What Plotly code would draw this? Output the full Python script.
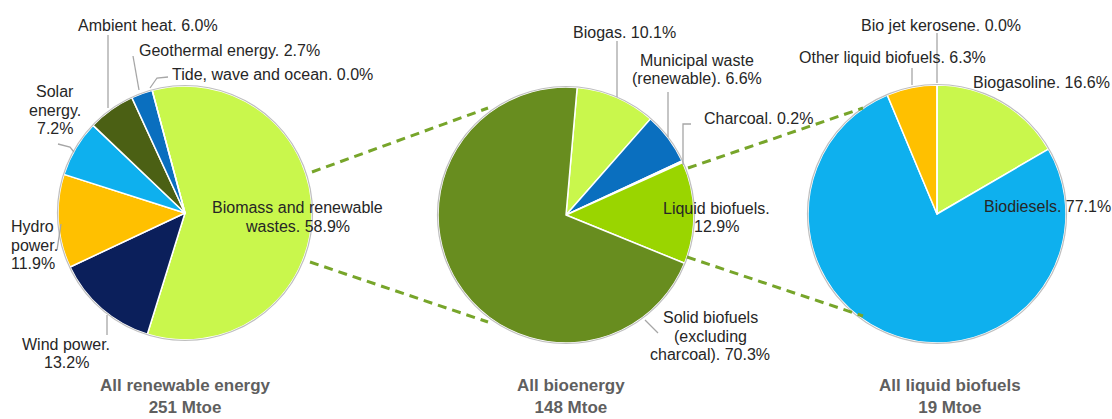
import plotly.graph_objects as go

# ---------------- data ----------------
renew_labels = ["Biomass and renewable wastes", "Wind power", "Hydro power", "Solar energy",
                "Ambient heat", "Geothermal energy", "Tide, wave and ocean"]
renew_values = [58.9, 13.2, 11.9, 7.2, 6.0, 2.7, 0.0]

bio_labels = ["Biogas", "Municipal waste (renewable)", "Charcoal", "Liquid biofuels",
              "Solid biofuels (excluding charcoal)"]
bio_values = [10.1, 6.6, 0.2, 12.9, 70.3]

liq_labels = ["Biogasoline", "Biodiesels", "Other liquid biofuels", "Bio jet kerosene"]
liq_values = [16.6, 77.1, 6.3, 0.0]

titles = [("All renewable energy", "251 Mtoe"), ("All bioenergy", "148 Mtoe"),
          ("All liquid biofuels", "19 Mtoe")]

# ---------------- style / layout ----------------
W, H = 1112, 419
LIGHT = "#C9F74C"
renew_colors = [LIGHT, "#0B1F5B", "#FFC000", "#0EB0EE", "#4B6014", "#0A6FBF", "#7F7F7F"]
bio_colors = [LIGHT, "#0A6FBF", "#2E4A0A", "#9AD500", "#688D1F"]
liq_colors = [LIGHT, "#0EB0EE", "#FFC000", "#7F7F7F"]

pies = [  # centre px, radius px, rotation
    dict(cx=185, cy=213, r=127, rot=-15),
    dict(cx=566, cy=215, r=128, rot=5),
    dict(cx=937, cy=214, r=129, rot=0),
]

FONT = "Liberation Sans, Arial, sans-serif"
TXT = "#262626"
LEAD = "#A6A6A6"
CONN = "#77A52A"
LS = 18.5  # line spacing


def px(x):
    return x / W


def py(y):
    return 1 - y / H


fig = go.Figure()
for spec, labs, vals, cols in [(pies[0], renew_labels, renew_values, renew_colors),
                               (pies[1], bio_labels, bio_values, bio_colors),
                               (pies[2], liq_labels, liq_values, liq_colors)]:
    cx, cy, r = spec["cx"], spec["cy"], spec["r"]
    fig.add_trace(go.Pie(
        labels=labs, values=vals, sort=False, direction="clockwise",
        rotation=spec["rot"], textinfo="none", hoverinfo="label+value",
        marker=dict(colors=cols, line=dict(color="white", width=1.5)),
        domain=dict(x=[px(cx - r), px(cx + r)], y=[py(cy + r), py(cy - r)]),
        showlegend=False,
    ))

shapes = []
annotations = []

# outer grey rim
for spec in pies:
    cx, cy, r = spec["cx"], spec["cy"], spec["r"] + 0.5
    shapes.append(dict(type="circle", xref="paper", yref="paper",
                       x0=px(cx - r), x1=px(cx + r), y0=py(cy + r), y1=py(cy - r),
                       line=dict(color="#BFBFBF", width=1.2), layer="above"))


def label_text(name, value, breaks):
    words = f"{name}. {value:.1f}%".split(" ")
    lines, cur = [], []
    for i, w in enumerate(words, 1):
        cur.append(w)
        if i in breaks:
            lines.append(" ".join(cur))
            cur = []
    if cur:
        lines.append(" ".join(cur))
    return lines


def add_label(lines, x, yc, anchor="center"):
    n = len(lines)
    for i, ln in enumerate(lines):
        y = yc + (i - (n - 1) / 2) * LS
        annotations.append(dict(text=ln, x=px(x), y=py(y), xref="paper", yref="paper",
                                xanchor=anchor, yanchor="middle", showarrow=False,
                                font=dict(family=FONT, size=16, color=TXT)))


def add_path(points, color, width, dash="solid"):
    d = "M " + " L ".join(f"{px(a)} {py(b)}" for a, b in points)
    shapes.append(dict(type="path", path=d, xref="paper", yref="paper",
                       line=dict(color=color, width=width, dash=dash), layer="above"))


# label placement: name -> (x, y centre, anchor, breaks, leader polyline)
placements = {
    "Biomass and renewable wastes": (297, 217, "center", [3], None),
    "Wind power": (66, 353.5, "center", [2], [(107, 315), (107, 335)]),
    "Hydro power": (9, 245, "left", [1, 2], [(61, 224), (57, 250)]),
    "Solar energy": (55, 110, "center", [1, 2], [(58, 144), (70, 147), (74, 152)]),
    "Ambient heat": (148, 25, "center", [], [(108, 35), (108, 108)]),
    "Geothermal energy": (229, 50, "center", [], [(133, 56), (139, 90)]),
    "Tide, wave and ocean": (170, 74, "left", [], [(150, 88), (157, 78), (168, 77)]),
    "Biogas": (624, 32, "center", [], [(617, 41), (617, 97)]),
    "Municipal waste (renewable)": (697, 69.5, "center", [2], [(668, 92), (668, 137)]),
    "Charcoal": (702, 118, "left", [], [(691, 124), (683, 124), (683, 165)]),
    "Liquid biofuels": (716, 217.5, "center", [2], None),
    "Solid biofuels (excluding charcoal)": (710, 336, "center", [2, 3], [(645, 320), (658, 333)]),
    "Biogasoline": (971, 82, "left", [], None),
    "Biodiesels": (982, 207, "left", [], None),
    "Other liquid biofuels": (892, 58, "center", [], [(912, 68), (912, 85)]),
    "Bio jet kerosene": (941, 25, "center", [], [(937, 33), (937, 83)]),
}

for labs, vals in [(renew_labels, renew_values), (bio_labels, bio_values), (liq_labels, liq_values)]:
    for name, v in zip(labs, vals):
        x, yc, anchor, breaks, lead = placements[name]
        if lead:
            add_path(lead, LEAD, 1.3)
        add_label(label_text(name, v, breaks), x, yc, anchor)

# dashed connectors between pies
for seg in [[(312, 172), (488, 108)], [(310, 262), (488, 322)],
            [(688, 168), (863, 108)], [(687, 257), (863, 316)]]:
    add_path(seg, CONN, 3, dash="9px,6px")

# titles (two lines each)
for (l1, l2), xc in zip(titles, [185, 571, 950]):
    annotations.append(dict(text=f"<b>{l1}</b><br><b>{l2}</b>", x=px(xc), y=py(396),
                            xref="paper", yref="paper", xanchor="center", yanchor="middle",
                            showarrow=False, borderpad=0,
                            font=dict(family=FONT, size=17, color="#5F5F5F")))

fig.update_layout(width=W, height=H, autosize=False,
                  margin=dict(l=0, r=0, t=0, b=0),
                  paper_bgcolor="white", plot_bgcolor="white",
                  shapes=shapes, annotations=annotations)

fig.write_html("out.html", config={"displayModeBar": False},
               post_script="document.body.style.margin='0';document.body.style.overflow='hidden';")
